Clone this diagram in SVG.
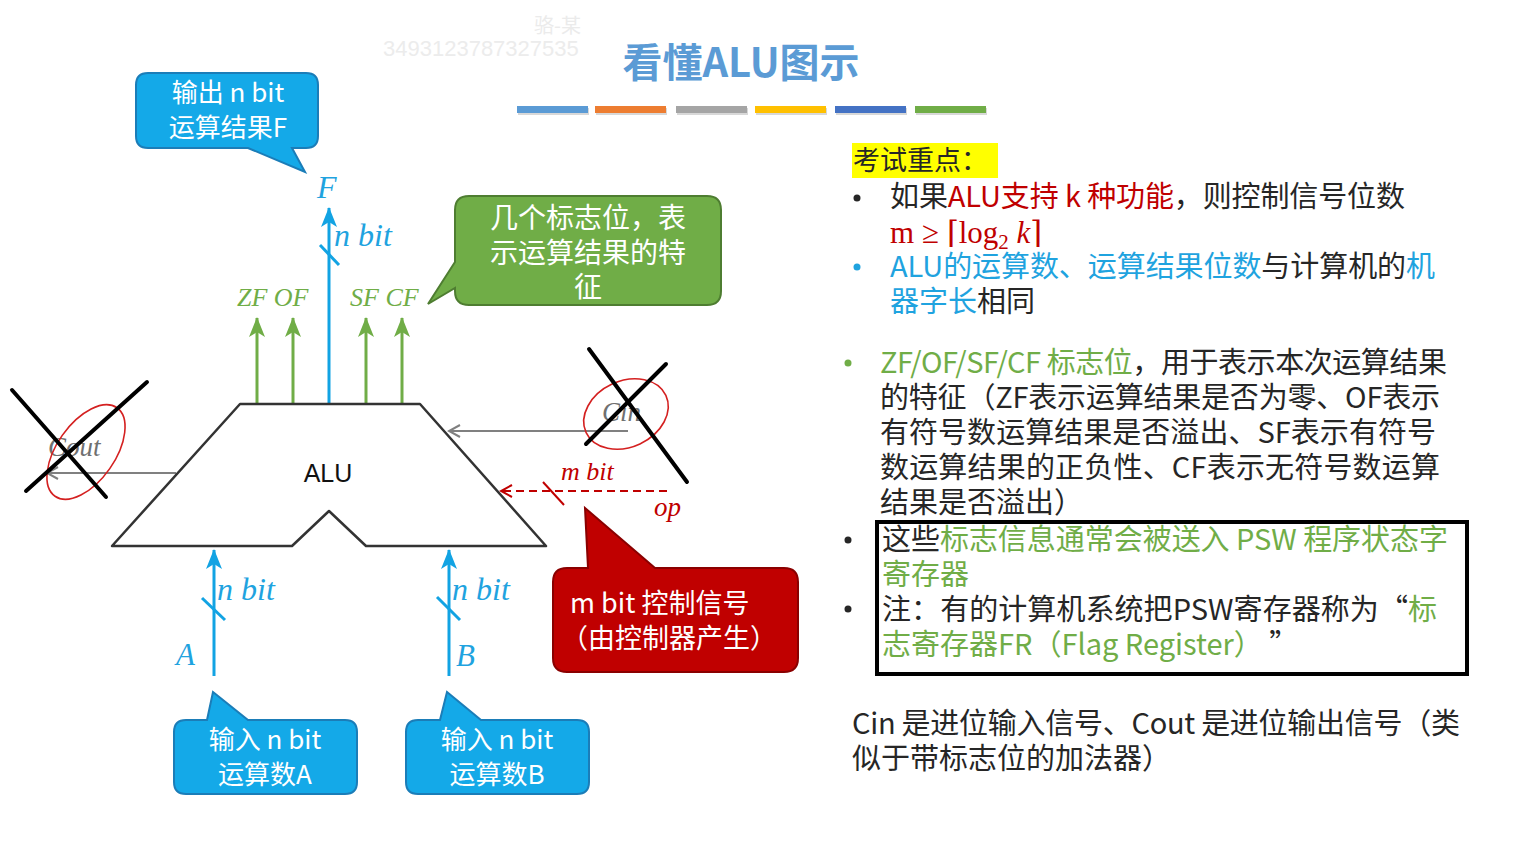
<svg xmlns="http://www.w3.org/2000/svg" width="1517" height="864" viewBox="0 0 1517 864">
<style>
.cj{font-family:"Noto Sans CJK SC","Noto Sans",sans-serif}
.it{font-family:"Liberation Serif",serif;font-style:italic}
.wt{fill:#ffffff}
.blk{fill:#262626}
.red{fill:#C00000}
.blu{fill:#1FA3DF}
.grn{fill:#70AD47}
.bl{stroke:#12A3E3;stroke-width:3;fill:none}
.gl{stroke:#70AD47;stroke-width:3;fill:none}
.gy{stroke:#808080;stroke-width:2;fill:none}
.xl{stroke:#000;stroke-width:4;stroke-linecap:round}
.rc{stroke:#D42020;stroke-width:1.6;fill:none}
</style>
<defs>
<marker id="ab" markerUnits="userSpaceOnUse" markerWidth="20" markerHeight="16" viewBox="0 0 20 16" refX="19" refY="8" orient="auto"><path d="M0,0 L20,8 L0,16 L5,8 Z" fill="#12A3E3"/></marker>
<marker id="ag" markerUnits="userSpaceOnUse" markerWidth="20" markerHeight="16" viewBox="0 0 20 16" refX="19" refY="8" orient="auto"><path d="M0,0 L20,8 L0,16 L5,8 Z" fill="#70AD47"/></marker>
<marker id="ay" markerUnits="userSpaceOnUse" markerWidth="14" markerHeight="14" viewBox="0 0 14 14" refX="12" refY="7" orient="auto"><path d="M1,1 L12,7 L1,13" fill="none" stroke="#808080" stroke-width="2"/></marker>
<marker id="ar" markerUnits="userSpaceOnUse" markerWidth="14" markerHeight="14" viewBox="0 0 14 14" refX="12" refY="7" orient="auto"><path d="M1,1 L12,7 L1,13" fill="none" stroke="#C00000" stroke-width="2"/></marker>
</defs>
<rect width="1517" height="864" fill="#ffffff"/>

<!-- watermark -->
<text x="534" y="33" class="cj" font-size="20" fill="#ebebeb">骆-某</text>
<text x="383" y="56" font-family="Liberation Sans,sans-serif" font-size="22" fill="#ececec">3493123787327535</text>

<!-- title -->
<g id="title">
<text x="741" y="77" text-anchor="middle" class="cj" font-size="40" font-weight="bold" fill="#5B9BD5">看懂ALU图示</text>
<g fill="#c8c8c8" opacity="0.7">
<rect x="518" y="108" width="71" height="7"/><rect x="596" y="108" width="71" height="7"/><rect x="677" y="108" width="71" height="7"/><rect x="756" y="108" width="71" height="7"/><rect x="836" y="108" width="71" height="7"/><rect x="916" y="108" width="71" height="7"/>
</g>
<rect x="517" y="106" width="71" height="7" fill="#5B9BD5"/>
<rect x="595" y="106" width="71" height="7" fill="#ED7D31"/>
<rect x="676" y="106" width="71" height="7" fill="#A5A5A5"/>
<rect x="755" y="106" width="71" height="7" fill="#FFC000"/>
<rect x="835" y="106" width="71" height="7" fill="#4472C4"/>
<rect x="915" y="106" width="71" height="7" fill="#70AD47"/>
</g>

<!-- connectors -->
<g id="connectors">
<line class="bl" x1="329" y1="404" x2="329" y2="208" marker-end="url(#ab)"/>
<line class="bl" x1="320" y1="245" x2="339" y2="265"/>
<line class="gl" x1="257" y1="404" x2="257" y2="318" marker-end="url(#ag)"/>
<line class="gl" x1="293" y1="404" x2="293" y2="318" marker-end="url(#ag)"/>
<line class="gl" x1="366" y1="404" x2="366" y2="318" marker-end="url(#ag)"/>
<line class="gl" x1="402" y1="404" x2="402" y2="318" marker-end="url(#ag)"/>
<line class="bl" x1="214" y1="676" x2="214" y2="550" marker-end="url(#ab)"/>
<line class="bl" x1="202" y1="598" x2="225" y2="620"/>
<line class="bl" x1="449" y1="676" x2="449" y2="550" marker-end="url(#ab)"/>
<line class="bl" x1="437" y1="597" x2="460" y2="620"/>
<line class="gy" x1="176" y1="473" x2="47" y2="473" marker-end="url(#ay)"/>
<line class="gy" x1="628" y1="431" x2="449" y2="431" marker-end="url(#ay)"/>
<line x1="667" y1="491" x2="501" y2="491" stroke="#C00000" stroke-width="2" stroke-dasharray="8,5" marker-end="url(#ar)"/>
<line x1="543" y1="482" x2="564" y2="505" stroke="#C00000" stroke-width="2"/>
</g>

<!-- ALU -->
<g id="alu">
<polygon points="240,404 420,404 546,546 366,546 329,511 292,546 112,546" fill="#ffffff" stroke="#333333" stroke-width="2.5" stroke-linejoin="round"/>
<text x="328" y="482" text-anchor="middle" font-family="Liberation Sans,sans-serif" font-size="25" fill="#111">ALU</text>
</g>

<!-- labels -->
<g id="labels">
<text x="317" y="198" class="it blu" font-size="32">F</text>
<text x="334" y="246" class="it blu" font-size="32">n bit</text>
<text x="237" y="306" class="it grn" font-size="26">ZF OF</text>
<text x="350" y="306" class="it grn" font-size="26">SF CF</text>
<text x="217" y="600" class="it blu" font-size="32">n bit</text>
<text x="452" y="600" class="it blu" font-size="32">n bit</text>
<text x="176" y="665" class="it blu" font-size="31">A</text>
<text x="456" y="666" class="it blu" font-size="31">B</text>
<text x="48" y="456" class="it" font-size="27" fill="#707070">Cout</text>
<text x="602" y="421" class="it" font-size="27" fill="#707070">Cin</text>
<text x="561" y="480" class="it red" font-size="26">m bit</text>
<text x="654" y="516" class="it red" font-size="27">op</text>
</g>

<!-- crossed out marks -->
<g id="crossouts">
<ellipse cx="86" cy="452" rx="54" ry="29" transform="rotate(-55 86 452)" class="rc"/>
<line class="xl" x1="12" y1="390" x2="106" y2="497"/>
<line class="xl" x1="147" y1="382" x2="26" y2="491"/>
<ellipse cx="626" cy="414" rx="44" ry="33" transform="rotate(-25 626 414)" class="rc"/>
<line class="xl" x1="589" y1="349" x2="687" y2="482"/>
<line class="xl" x1="666" y1="364" x2="586" y2="444"/>
</g>

<!-- callouts -->
<g id="callout-F">
<path d="M148,73 H306 Q318,73 318,85 V136 Q318,148 306,148 H292 L305,172 L248,148 H148 Q136,148 136,136 V85 Q136,73 148,73 Z" fill="#14A9E8" stroke="#1B7DB8" stroke-width="2"/>
<text x="228" y="102" text-anchor="middle" class="cj wt" font-size="26">输出 n bit</text>
<text x="228" y="137" text-anchor="middle" class="cj wt" font-size="26">运算结果F</text>
</g>
<g id="callout-flags">
<path d="M469,196 H707 Q721,196 721,210 V291 Q721,305 707,305 H469 Q455,305 455,291 V288 L428,304 L455,262 V210 Q455,196 469,196 Z" fill="#70AD47" stroke="#4E7D31" stroke-width="2"/>
<text x="588" y="228" text-anchor="middle" class="cj wt" font-size="28">几个标志位，表</text>
<text x="588" y="263" text-anchor="middle" class="cj wt" font-size="28">示运算结果的特</text>
<text x="588" y="297" text-anchor="middle" class="cj wt" font-size="28">征</text>
</g>
<g id="callout-op">
<path d="M567,568 H588 L585,508 L655,568 H784 Q798,568 798,582 V658 Q798,672 784,672 H567 Q553,672 553,658 V582 Q553,568 567,568 Z" fill="#C00000" stroke="#8A0000" stroke-width="2"/>
<text x="570" y="613" class="cj wt" font-size="27">m bit 控制信号</text>
<text x="561" y="648" class="cj wt" font-size="27">（由控制器产生）</text>
</g>
<g id="callout-A">
<path d="M186,720 H207 L213,692 L248,720 H345 Q357,720 357,732 V782 Q357,794 345,794 H186 Q174,794 174,782 V732 Q174,720 186,720 Z" fill="#14A9E8" stroke="#1B7DB8" stroke-width="2"/>
<text x="265" y="749" text-anchor="middle" class="cj wt" font-size="26">输入 n bit</text>
<text x="265" y="784" text-anchor="middle" class="cj wt" font-size="26">运算数A</text>
</g>
<g id="callout-B">
<path d="M418,720 H440 L447,692 L481,720 H577 Q589,720 589,732 V782 Q589,794 577,794 H418 Q406,794 406,782 V732 Q406,720 418,720 Z" fill="#14A9E8" stroke="#1B7DB8" stroke-width="2"/>
<text x="497" y="749" text-anchor="middle" class="cj wt" font-size="26">输入 n bit</text>
<text x="497" y="784" text-anchor="middle" class="cj wt" font-size="26">运算数B</text>
</g>

<!-- right notes -->
<g id="notes">
<rect x="852" y="143" width="146" height="35" fill="#FFFF00"/>
<text x="853" y="170" class="cj blk" font-size="27">考试重点：</text>
<circle cx="857" cy="198" r="3.5" fill="#262626"/>
<text x="890" y="207" class="cj blk" font-size="29" textLength="515" lengthAdjust="spacing">如果<tspan class="red">ALU支持 k 种功能</tspan>，则控制信号位数</text>
<text x="890" y="243" font-family="Liberation Serif,DejaVu Serif,serif" font-size="31" class="red">m ≥ ⌈log<tspan font-size="21" dy="6">2</tspan><tspan dy="-6"> </tspan><tspan font-style="italic">k</tspan>⌉</text>
<circle cx="857" cy="267" r="3.5" fill="#1FA3DF"/>
<text x="890" y="277" class="cj blk" font-size="29" textLength="545" lengthAdjust="spacing"><tspan class="blu">ALU的运算数、运算结果位数</tspan>与计算机的<tspan class="blu">机</tspan></text>
<text x="890" y="312" class="cj blk" font-size="29"><tspan class="blu">器字长</tspan>相同</text>

<circle cx="848" cy="363" r="3.5" fill="#70AD47"/>
<text x="880" y="373" class="cj blk" font-size="29" textLength="567" lengthAdjust="spacing"><tspan class="grn">ZF/OF/SF/CF 标志位</tspan>，用于表示本次运算结果</text>
<text x="880" y="408" class="cj blk" font-size="29" textLength="560" lengthAdjust="spacing">的特征（ZF表示运算结果是否为零、OF表示</text>
<text x="880" y="443" class="cj blk" font-size="29" textLength="556" lengthAdjust="spacing">有符号数运算结果是否溢出、SF表示有符号</text>
<text x="880" y="478" class="cj blk" font-size="29" textLength="560" lengthAdjust="spacing">数运算结果的正负性、CF表示无符号数运算</text>
<text x="880" y="513" class="cj blk" font-size="29">结果是否溢出）</text>

<rect x="877" y="522" width="590" height="152" fill="none" stroke="#000" stroke-width="4"/>
<circle cx="848" cy="540" r="3.5" fill="#262626"/>
<text x="882" y="550" class="cj blk" font-size="29" textLength="566" lengthAdjust="spacing">这些<tspan class="grn">标志信息通常会被送入 PSW 程序状态字</tspan></text>
<text x="882" y="585" class="cj grn" font-size="29">寄存器</text>
<circle cx="848" cy="609" r="3.5" fill="#262626"/>
<text x="882" y="620" class="cj blk" font-size="29" textLength="555" lengthAdjust="spacing">注：有的计算机系统把PSW寄存器称为“<tspan class="grn">标</tspan></text>
<text x="882" y="655" class="cj blk" font-size="29"><tspan class="grn">志寄存器FR（Flag Register）</tspan> ”</text>

<text x="852" y="734" class="cj blk" font-size="29" textLength="608" lengthAdjust="spacing">Cin 是进位输入信号、Cout 是进位输出信号（类</text>
<text x="852" y="769" class="cj blk" font-size="29">似于带标志位的加法器）</text>
</g>
</svg>
